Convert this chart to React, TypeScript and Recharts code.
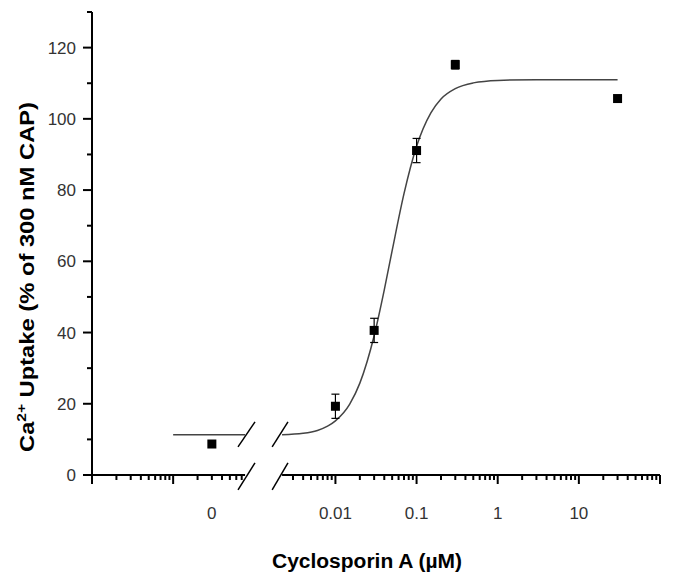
import { ComposedChart, Line, Scatter, ErrorBar, XAxis, YAxis, ReferenceLine } from 'recharts'

// the no-drug control sits on the left (broken-off) part of the log axis, labelled "0"
const CONTROL_X = 0.0003

const doseX = [CONTROL_X, 0.01, 0.03, 0.1, 0.3, 30]
const uptake = [8.7, 19.3, 40.6, 91.1, 115.2, 105.7]
const uptakeErr = [0, 3.4, 3.4, 3.4, 1.2, 0]

// fitted curve
const fitX = [0.0022, 0.004, 0.006, 0.008, 0.01, 0.015, 0.02, 0.03, 0.04, 0.05, 0.07, 0.1, 0.15, 0.2, 0.3, 0.5, 1, 3, 30]
const fitY = [11.3, 11.7, 12.5, 13.7, 15.2, 19.9, 25.8, 39.1, 52, 63, 79, 92.3, 101.7, 105.6, 108.5, 110.1, 110.8, 111, 111]

// flat part of the fit drawn on the control side of the break
const baseX = [0.0001, 0.00077]
const baseY = [11.3, 11.3]

const xMajor = [1e-5, 1e-4, 0.01, 0.1, 1, 10, 100]
const xTickLabels = ['0', '0.01', '0.1', '1', '10']
const xTickLabelAt = [CONTROL_X, 0.01, 0.1, 1, 10]
const leftDecades = [1e-5, 1e-4]
const rightDecades = [0.001, 0.01, 0.1, 1, 10]

const yTicks = [0, 10, 20, 30, 40, 50, 60, 70, 80, 90, 100, 110, 120, 130]

const X_DOMAIN = [1e-5, 100]
const LEFT_END = 0.00077
const RIGHT_START = 0.0022

const points = doseX.map((x, i) => ({ x, y: uptake[i], err: uptakeErr[i] }))
const fit = fitX.map((x, i) => ({ x, y: fitY[i] }))
const base = baseX.map((x, i) => ({ x, y: baseY[i] }))

const xTicks: number[] = []
for (const d of leftDecades) {
  for (let k = 1; k <= 9; k++) if (d * k <= LEFT_END) xTicks.push(d * k)
}
for (const d of rightDecades) {
  for (let k = 1; k <= 9; k++) if (d * k >= RIGHT_START) xTicks.push(d * k)
}
xTicks.push(100)

const same = (a: number, b: number) => Math.abs(Math.log10(a) - Math.log10(b)) < 1e-6
const FONT = '"Liberation Sans", Arial, sans-serif'

function XTick(props: any) {
  const { x, y, payload } = props
  const v = payload.value as number
  const major = xMajor.some((m) => same(m, v))
  const li = xTickLabelAt.findIndex((m) => same(m, v))
  return (
    <g>
      <line x1={x} x2={x} y1={y} y2={y + (major ? 9 : 5)} stroke="#000" strokeWidth={2} />
      {li >= 0 && (
        <text x={x} y={y + 44} textAnchor="middle" fontSize={17} fontFamily={FONT} fill="#333">
          {xTickLabels[li]}
        </text>
      )}
    </g>
  )
}

function YTick(props: any) {
  const { x, y, payload } = props
  const v = payload.value as number
  const major = v % 20 === 0
  return (
    <g>
      <line x1={x - (major ? 9 : 5)} x2={x} y1={y} y2={y} stroke="#000" strokeWidth={2} />
      {major && (
        <text x={x - 16} y={y + 6} textAnchor="end" fontSize={17} fontFamily={FONT} fill="#333">
          {v}
        </text>
      )}
    </g>
  )
}

function Square(props: any) {
  const { cx, cy } = props
  return <rect x={cx - 4.5} y={cy - 4.5} width={9} height={9} fill="#000" />
}

const slash = { stroke: '#000', strokeWidth: 1.5, ifOverflow: 'visible' as const }

export default function App() {
  return (
    <div style={{ position: 'absolute', left: 0, top: 0, width: 674, height: 583, background: '#fff' }}>
      <ComposedChart width={674} height={583} margin={{ top: 12, right: 14, left: 32, bottom: 28 }}>
        <XAxis
          dataKey="x"
          type="number"
          scale="log"
          domain={X_DOMAIN}
          allowDataOverflow
          ticks={xTicks}
          interval={0}
          tick={<XTick />}
          tickLine={false}
          tickSize={0}
          tickMargin={0}
          axisLine={false}
          height={80}
        />
        <YAxis
          dataKey="y"
          type="number"
          domain={[0, 130]}
          ticks={yTicks}
          interval={0}
          tick={<YTick />}
          tickLine={false}
          tickSize={0}
          tickMargin={0}
          axisLine={{ stroke: '#000', strokeWidth: 2 }}
          width={60}
        />

        {/* broken x axis */}
        <ReferenceLine segment={[{ x: X_DOMAIN[0], y: 0 }, { x: LEFT_END, y: 0 }]} stroke="#000" strokeWidth={2} ifOverflow="visible" />
        <ReferenceLine segment={[{ x: RIGHT_START, y: 0 }, { x: X_DOMAIN[1], y: 0 }]} stroke="#000" strokeWidth={2} ifOverflow="visible" />
        <ReferenceLine segment={[{ x: 0.00063, y: -4.2 }, { x: 0.00102, y: 3.4 }]} {...slash} />
        <ReferenceLine segment={[{ x: 0.00166, y: -4.2 }, { x: 0.0026, y: 3.4 }]} {...slash} />
        <ReferenceLine segment={[{ x: 0.00063, y: 7.9 }, { x: 0.00102, y: 14.9 }]} {...slash} />
        <ReferenceLine segment={[{ x: 0.00166, y: 7.9 }, { x: 0.0026, y: 14.9 }]} {...slash} />

        <Line data={base} dataKey="y" type="linear" stroke="#444" strokeWidth={1.5} dot={false} isAnimationActive={false} />
        <Line data={fit} dataKey="y" type="monotone" stroke="#444" strokeWidth={1.5} dot={false} isAnimationActive={false} />
        <Scatter data={points} fill="#000" shape={<Square />} isAnimationActive={false}>
          <ErrorBar dataKey="err" direction="y" width={4} stroke="#000" strokeWidth={1.2} />
        </Scatter>
      </ComposedChart>

      <svg width={674} height={583} style={{ position: 'absolute', left: 0, top: 0, pointerEvents: 'none' }}>
        <text
          transform="translate(34,277) rotate(-90)"
          textAnchor="middle"
          fontSize={20}
          fontWeight="bold"
          fontFamily={FONT}
          fill="#000"
          textLength={350}
          lengthAdjust="spacingAndGlyphs"
        >
          Ca<tspan dy={-8} fontSize={13}>2+</tspan>
          <tspan dy={8}> Uptake (% of 300 nM CAP)</tspan>
        </text>
        <text
          x={367}
          y={568}
          textAnchor="middle"
          fontSize={20}
          fontWeight="bold"
          fontFamily={FONT}
          fill="#000"
          textLength={190}
          lengthAdjust="spacingAndGlyphs"
        >
          Cyclosporin A (µM)
        </text>
      </svg>
    </div>
  )
}
